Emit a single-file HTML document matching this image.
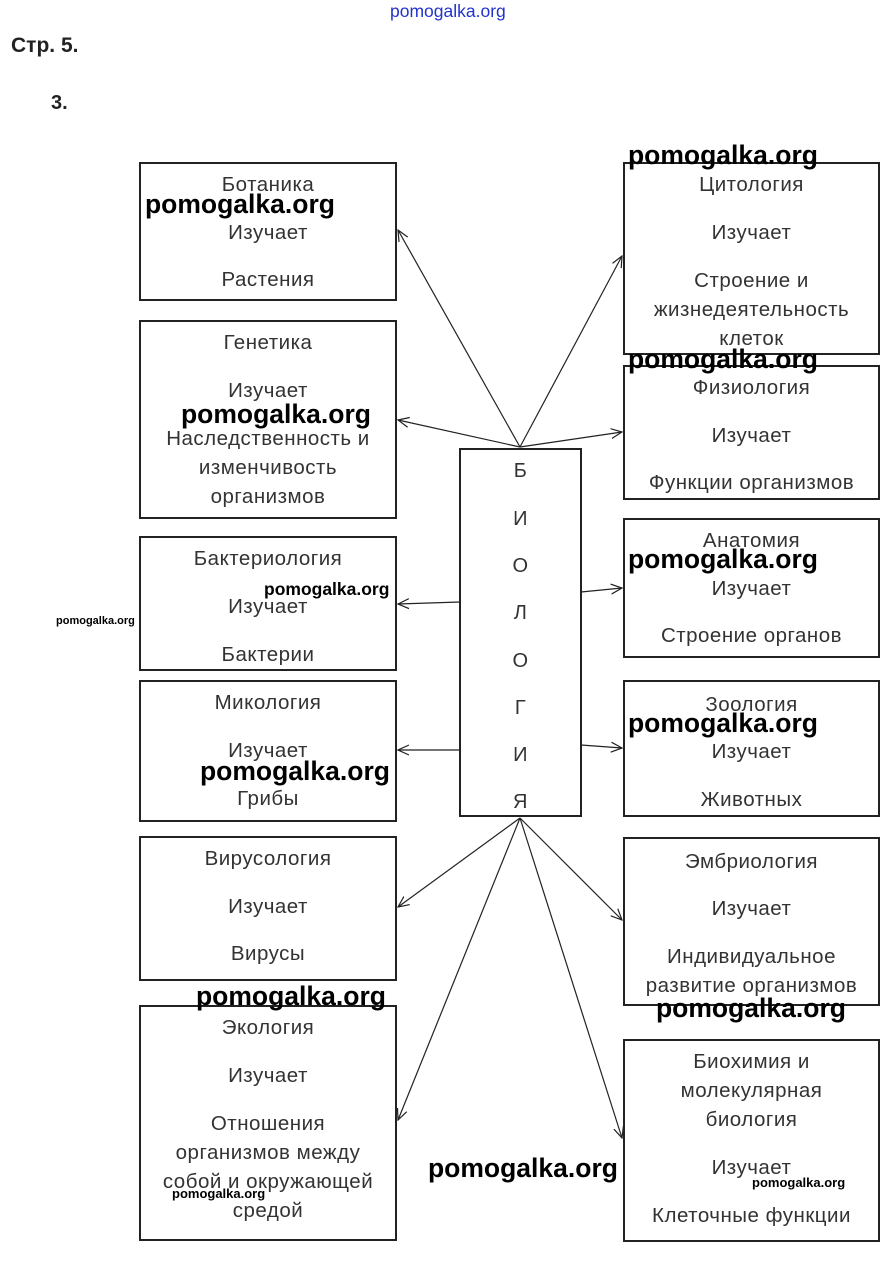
<!DOCTYPE html>
<html><head><meta charset="utf-8"><style>
body{margin:0;width:894px;height:1262px;background:#fff;position:relative;font-family:"Liberation Sans",sans-serif;overflow:hidden}
.b{position:absolute;border:2px solid #222;box-sizing:border-box;text-align:center;color:#333;font-size:20.5px;letter-spacing:0.5px;white-space:nowrap}
.t{position:absolute;left:0;right:0;line-height:29px}
.w{position:absolute;font-weight:bold;font-size:26.5px;color:#000;white-space:nowrap}
.s{position:absolute;font-weight:bold;font-size:13px;color:#000;white-space:nowrap}
.c{position:absolute;left:0;right:0;text-align:center;font-size:20px;color:#333}
</style></head><body>
<div style="position:absolute;left:390px;top:1px;font-size:17.5px;color:#2233cc">pomogalka.org</div>
<div style="position:absolute;left:11px;top:34px;font-size:21px;font-weight:bold;color:#222">Стр. 5.</div>
<div style="position:absolute;left:51px;top:92px;font-size:20px;font-weight:bold;color:#222">3.</div>
<svg style="position:absolute;left:0;top:0" width="894" height="1262">
<defs><marker id="a" markerWidth="12" markerHeight="12" refX="11" refY="6" orient="auto" markerUnits="userSpaceOnUse"><path d="M0,1 L11,6 L0,11" fill="none" stroke="#222" stroke-width="1.2"/></marker></defs>
<g stroke="#222" stroke-width="1.2" marker-end="url(#a)">
<line x1="520" y1="447" x2="398" y2="230"/><line x1="520" y1="447" x2="398" y2="420"/>
<line x1="520" y1="447" x2="622" y2="256"/><line x1="520" y1="447" x2="622" y2="432"/>
<line x1="460" y1="602" x2="398" y2="604"/><line x1="460" y1="750" x2="398" y2="750"/>
<line x1="581" y1="592" x2="622" y2="588"/><line x1="581" y1="745" x2="622" y2="748"/>
<line x1="520" y1="818" x2="398" y2="907"/><line x1="520" y1="818" x2="398" y2="1120"/>
<line x1="520" y1="818" x2="622" y2="920"/><line x1="520" y1="818" x2="622" y2="1138"/>
</g></svg>
<div class="b" style="left:459px;top:448px;width:123px;height:369px">
<div class="c" style="top:10px">Б</div><div class="c" style="top:58px">И</div><div class="c" style="top:105px">О</div><div class="c" style="top:152px">Л</div><div class="c" style="top:200px">О</div><div class="c" style="top:247px">Г</div><div class="c" style="top:294px">И</div><div class="c" style="top:341px">Я</div></div>

<div class="b" style="left:139px;top:162px;width:258px;height:139px"><div class="t" style="top:6px">Ботаника</div><div class="t" style="top:54px">Изучает</div><div class="t" style="top:101px">Растения</div></div>
<div class="b" style="left:139px;top:320px;width:258px;height:199px"><div class="t" style="top:6px">Генетика</div><div class="t" style="top:54px">Изучает</div><div class="t" style="top:102px">Наследственность и<br>изменчивость<br>организмов</div></div>
<div class="b" style="left:139px;top:536px;width:258px;height:135px"><div class="t" style="top:6px">Бактериология</div><div class="t" style="top:54px">Изучает</div><div class="t" style="top:102px">Бактерии</div></div>
<div class="b" style="left:139px;top:680px;width:258px;height:142px"><div class="t" style="top:6px">Микология</div><div class="t" style="top:54px">Изучает</div><div class="t" style="top:102px">Грибы</div></div>
<div class="b" style="left:139px;top:836px;width:258px;height:145px"><div class="t" style="top:6px">Вирусология</div><div class="t" style="top:54px">Изучает</div><div class="t" style="top:101px">Вирусы</div></div>
<div class="b" style="left:139px;top:1005px;width:258px;height:236px"><div class="t" style="top:6px">Экология</div><div class="t" style="top:54px">Изучает</div><div class="t" style="top:102px">Отношения<br>организмов между<br>собой и окружающей<br>средой</div></div>

<div class="b" style="left:623px;top:162px;width:257px;height:193px"><div class="t" style="top:6px">Цитология</div><div class="t" style="top:54px">Изучает</div><div class="t" style="top:102px">Строение и<br>жизнедеятельность<br>клеток</div></div>
<div class="b" style="left:623px;top:365px;width:257px;height:135px"><div class="t" style="top:6px">Физиология</div><div class="t" style="top:54px">Изучает</div><div class="t" style="top:101px">Функции организмов</div></div>
<div class="b" style="left:623px;top:518px;width:257px;height:140px"><div class="t" style="top:6px">Анатомия</div><div class="t" style="top:54px">Изучает</div><div class="t" style="top:101px">Строение органов</div></div>
<div class="b" style="left:623px;top:680px;width:257px;height:137px"><div class="t" style="top:8px">Зоология</div><div class="t" style="top:55px">Изучает</div><div class="t" style="top:103px">Животных</div></div>
<div class="b" style="left:623px;top:837px;width:257px;height:169px"><div class="t" style="top:8px">Эмбриология</div><div class="t" style="top:55px">Изучает</div><div class="t" style="top:103px">Индивидуальное<br>развитие организмов</div></div>
<div class="b" style="left:623px;top:1039px;width:257px;height:203px"><div class="t" style="top:6px">Биохимия и<br>молекулярная<br>биология</div><div class="t" style="top:112px">Изучает</div><div class="t" style="top:160px">Клеточные функции</div></div>

<div class="w" style="left:628px;top:140px">pomogalka.org</div>
<div class="w" style="left:145px;top:189px">pomogalka.org</div>
<div class="w" style="left:628px;top:344px">pomogalka.org</div>
<div class="w" style="left:181px;top:399px">pomogalka.org</div>
<div class="w" style="left:628px;top:544px">pomogalka.org</div>
<div class="w" style="left:628px;top:708px">pomogalka.org</div>
<div class="w" style="left:200px;top:756px">pomogalka.org</div>
<div class="w" style="left:196px;top:981px">pomogalka.org</div>
<div class="w" style="left:656px;top:993px">pomogalka.org</div>
<div class="w" style="left:428px;top:1153px">pomogalka.org</div>
<div class="s" style="left:264px;top:579px;font-size:17.5px">pomogalka.org</div>
<div class="s" style="left:56px;top:615px;font-size:11px">pomogalka.org</div>
<div class="s" style="left:172px;top:1186px">pomogalka.org</div>
<div class="s" style="left:752px;top:1175px">pomogalka.org</div>
</body></html>
